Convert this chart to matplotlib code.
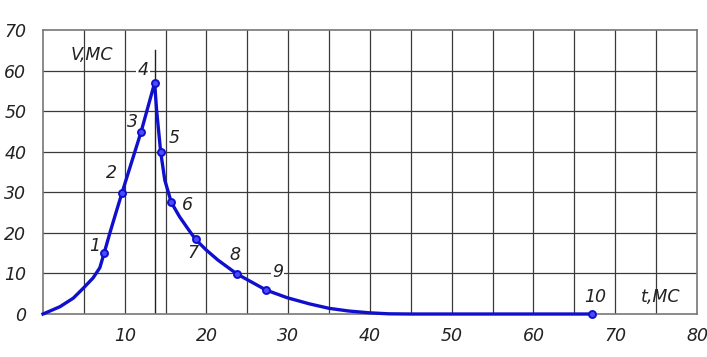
import matplotlib.pyplot as plt
from matplotlib.transforms import ScaledTranslation

# curve (t in ms, V in m/s)
curve_t = [0, 2.07, 3.7, 4.9, 6.13, 6.95, 7.48, 8.17, 8.9, 9.67, 10.4, 12.0, 13.66,
           13.9, 14.4, 14.9, 15.7, 16.7, 17.7, 18.66, 19.96, 21.4, 23.7, 27.3,
           29.9, 32.6, 35.0, 37.4, 39.9, 42.3, 45, 50, 55, 60, 67.2]
curve_v = [0, 1.8, 3.9, 6.3, 8.9, 11.4, 15.0, 19.9, 24.8, 29.9, 34.6, 44.9, 57.0,
           50.2, 39.9, 33.0, 27.5, 24.0, 21.1, 18.4, 15.8, 13.3, 9.9, 5.9,
           4.0, 2.5, 1.4, 0.74, 0.3, 0.05, 0, 0, 0, 0, 0]

# numbered points
pt_t = [7.48, 9.67, 12.0, 13.66, 14.4, 15.7, 18.66, 23.7, 27.3, 67.2]
pt_v = [15.0, 29.9, 44.9, 57.0, 39.9, 27.5, 18.4, 9.9, 5.9, 0.0]
pt_labels = ['1', '2', '3', '4', '5', '6', '7', '8', '9', '10']
label_pos = [(6.3, 16.7), (8.4, 34.7), (11.0, 47.3), (12.2, 60.1), (16.1, 43.3),
             (17.7, 26.8), (18.3, 15.0), (23.5, 14.5), (28.7, 10.3), (67.6, 4.2)]

x_ticks = [10, 20, 30, 40, 50, 60, 70, 80]
y_ticks = [0, 10, 20, 30, 40, 50, 60, 70]

blue = '#1010cc'
ink = '#222222'
font = dict(family='DejaVu Sans', style='italic', fontsize=12.5, color=ink)

fig = plt.figure(figsize=(7.07, 3.57), dpi=100)
ax = fig.add_axes([0.0608, 0.1204, 0.925, 0.7955])

ax.set_xlim(0, 80)
ax.set_ylim(0, 70)

# drawing-sheet grid: every 5 ms, every 10 m/s
for t in range(5, 80, 5):
    ax.axvline(t, color='#3a3a3a', lw=0.9, zorder=1)
for v in range(10, 70, 10):
    ax.axhline(v, color='#3a3a3a', lw=0.9, zorder=1)
for s in ax.spines.values():
    s.set_color('#777777')
    s.set_linewidth(1.2)

# vertical line through the peak
ax.plot([pt_t[3], pt_t[3]], [0, 65], color=ink, lw=1.0, zorder=2)

ax.plot(curve_t, curve_v, color=blue, lw=2.4, zorder=3, clip_on=False,
        solid_joinstyle='round')
ax.plot(pt_t, pt_v, 'o', ms=5, mfc='#4a4aff', mec=blue, mew=1.4, zorder=4, clip_on=False)

for lab, (tx, ty) in zip(pt_labels, label_pos):
    bg = dict(facecolor='white', edgecolor='none', pad=1) if lab in ('4', '9') else None
    ax.text(tx, ty, lab, ha='center', va='center', bbox=bg, zorder=5, **font)

ax.text(6.0, 63.9, 'V,MC', ha='center', va='center', **font)
ax.text(75.6, 4.2, 't,MC', ha='center', va='center', **font)

ax.set_xticks(x_ticks)
ax.set_yticks(y_ticks)
ax.set_xticklabels([str(t) for t in x_ticks])
ax.set_yticklabels([str(v) for v in y_ticks])
for lbl in ax.get_xticklabels() + ax.get_yticklabels():
    lbl.set_fontstyle('italic')
    lbl.set_fontsize(12.5)
    lbl.set_color(ink)
# italic lettering sits a little left of its grid line
shift = ScaledTranslation(-4 / 100, 0, fig.dpi_scale_trans)
for lbl in ax.get_xticklabels():
    lbl.set_transform(lbl.get_transform() + shift)
ax.tick_params(length=0)
ax.tick_params(axis='x', pad=9)
ax.tick_params(axis='y', pad=12)

fig.savefig('out.png', dpi=100)
